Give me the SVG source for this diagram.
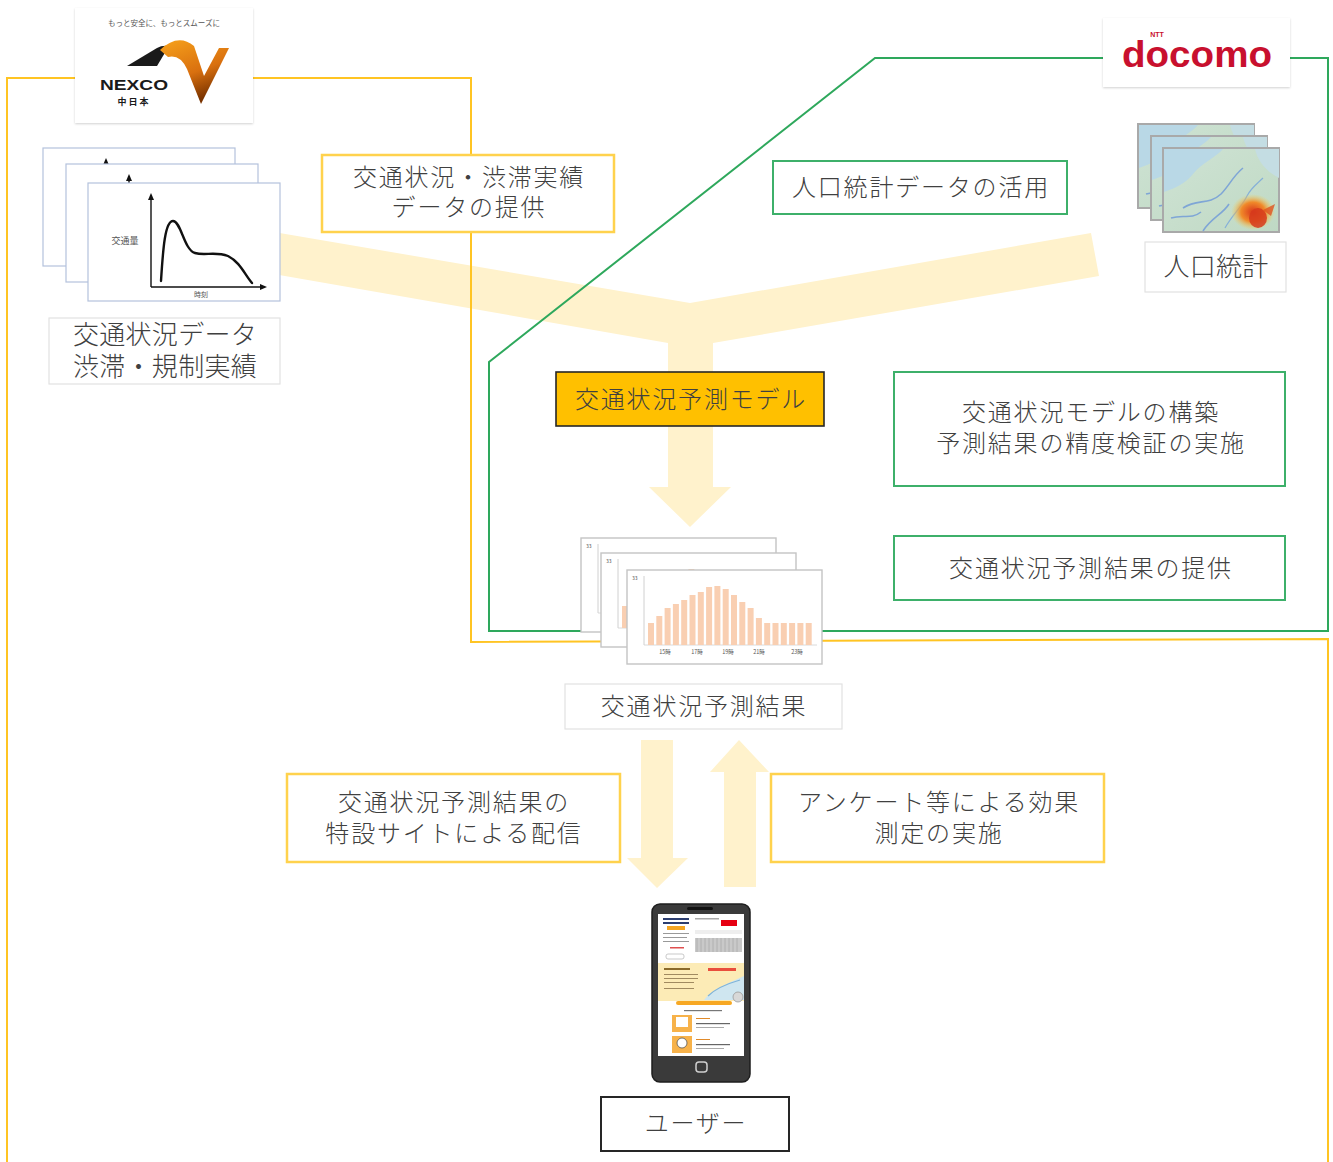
<svg xmlns="http://www.w3.org/2000/svg" width="1333" height="1162" viewBox="0 0 1333 1162">
  <style>
    .lbl { font-family: "Noto Sans CJK JP", "Noto Sans", sans-serif; font-weight: 300; font-size: 24px; fill: #404040; text-anchor: middle; letter-spacing: 1.8px; }
    .big { font-size: 26px; letter-spacing: 0.3px; }
    .ybox { fill: #ffffff; stroke: #FFD24D; stroke-width: 2.5; }
    .gbox { fill: #ffffff; stroke: #3DB06A; stroke-width: 2; }
    .faint { fill: #ffffff; stroke: #E2E2E2; stroke-width: 1.2; }
    .kbox { fill: #ffffff; stroke: #262626; stroke-width: 2; }
    .flow { fill: #FFF2CC; }
    .card { fill: #ffffff; stroke: #B4C2DC; stroke-width: 1.2; }
    .bcard { fill: #ffffff; stroke: #C4C4C4; stroke-width: 1.4; }
    .mcard { stroke: #A9A9A9; stroke-width: 2; }
    .tiny { font-family: "Noto Sans CJK JP", "Noto Sans", sans-serif; fill: #555555; }
  </style>
  <defs>
    <linearGradient id="swoosh" x1="0" y1="0" x2="0.4" y2="1">
      <stop offset="0" stop-color="#F7A21B"/>
      <stop offset="0.6" stop-color="#D9700F"/>
      <stop offset="1" stop-color="#7A3300"/>
    </linearGradient>
    <linearGradient id="land" x1="0" y1="0" x2="1" y2="1">
      <stop offset="0" stop-color="#CFE3D4"/>
      <stop offset="1" stop-color="#BFD9C4"/>
    </linearGradient>
    <radialGradient id="hot" cx="0.5" cy="0.5" r="0.5">
      <stop offset="0" stop-color="#D9361B"/>
      <stop offset="0.55" stop-color="#F08A2A"/>
      <stop offset="1" stop-color="#F3D35A" stop-opacity="0"/>
    </radialGradient>
    <filter id="sh" x="-5%" y="-5%" width="110%" height="115%">
      <feDropShadow dx="0" dy="1" stdDeviation="1" flood-color="#000" flood-opacity="0.18"/>
    </filter>

    <!-- traffic volume chart card -->
    <symbol id="trafficCard" overflow="visible">
      <rect class="card" x="0" y="0" width="192" height="118"/>
      <line x1="63" y1="15" x2="63" y2="104" stroke="#111" stroke-width="1.4"/>
      <polygon points="63,10 60,17 66,17" fill="#111"/>
      <line x1="63" y1="104" x2="174" y2="104" stroke="#111" stroke-width="1.4"/>
      <polygon points="179,104 172,101 172,107" fill="#111"/>
      <text class="tiny" x="37" y="61" font-size="9" text-anchor="middle">交通量</text>
      <text class="tiny" x="113" y="114" font-size="7" text-anchor="middle">時刻</text>
      <path d="M73,98 C75,66 77,38 85,38 C93,38 96,67 107,70 C117,73 127,68 140,73 C152,79 157,92 164,100" fill="none" stroke="#111" stroke-width="2.4" stroke-linecap="round"/>
    </symbol>

    <!-- hourly forecast bar chart card -->
    <symbol id="barCard" overflow="visible">
      <rect class="bcard" x="0" y="0" width="195" height="94"/>
      <text class="tiny" x="5" y="10" font-size="5" fill="#999">33</text>
      <line x1="17" y1="6" x2="17" y2="75" stroke="#D0D0D0" stroke-width="1"/>
      <line x1="17" y1="75" x2="190" y2="75" stroke="#D0D0D0" stroke-width="0.8"/>
      <g fill="#F9CFB2">
        <rect x="21" y="53" width="6" height="22"/>
        <rect x="29.3" y="46" width="6" height="29"/>
        <rect x="37.6" y="38" width="6" height="37"/>
        <rect x="45.9" y="34" width="6" height="41"/>
        <rect x="54.2" y="30" width="6" height="45"/>
        <rect x="62.5" y="25" width="6" height="50"/>
        <rect x="70.8" y="22" width="6" height="53"/>
        <rect x="79.1" y="17" width="6" height="58"/>
        <rect x="87.4" y="16" width="6" height="59"/>
        <rect x="95.7" y="19" width="6" height="56"/>
        <rect x="104" y="25" width="6" height="50"/>
        <rect x="112.3" y="32" width="6" height="43"/>
        <rect x="120.6" y="38" width="6" height="37"/>
        <rect x="128.9" y="48" width="6" height="27"/>
        <rect x="137.2" y="53" width="6" height="22"/>
        <rect x="145.5" y="53" width="6" height="22"/>
        <rect x="153.8" y="53" width="6" height="22"/>
        <rect x="162.1" y="53" width="6" height="22"/>
        <rect x="170.4" y="53" width="6" height="22"/>
        <rect x="178.7" y="53" width="6" height="22"/>
      </g>
      <g class="tiny" font-size="5.5" fill="#A0A0A0" text-anchor="middle">
        <text x="38" y="84">15時</text>
        <text x="70" y="84">17時</text>
        <text x="101" y="84">19時</text>
        <text x="132" y="84">21時</text>
        <text x="170" y="84">23時</text>
      </g>
    </symbol>

    <!-- population density map card -->
    <symbol id="mapCard" overflow="visible">
      <rect class="mcard" x="0" y="0" width="116" height="84" fill="url(#land)"/>
      <path d="M1,1 H60 C52,10 40,14 30,26 C22,36 12,40 1,44 Z" fill="#B9D8E6"/>
      <path d="M116,1 V30 C104,24 95,14 92,1 Z" fill="#C4DDE3"/>
      <path d="M20,60 C35,50 45,58 58,46 C66,38 70,28 80,20 M40,83 C48,70 60,66 66,56 M8,70 C20,66 28,72 38,64" fill="none" stroke="#7FA6D6" stroke-width="1.6"/>
      <path d="M62,80 C70,66 78,60 84,48 C88,40 94,36 100,30" fill="none" stroke="#86B0D8" stroke-width="1.2"/>
      <ellipse cx="90" cy="64" rx="22" ry="18" fill="url(#hot)"/>
      <ellipse cx="95" cy="70" rx="9" ry="10" fill="#D63A1C" opacity="0.85"/>
      <path d="M100,62 L112,56 L108,68 Z" fill="#E0541F" opacity="0.8"/>
    </symbol>
  </defs>

  <!-- flow arrows -->
  <g id="flows">
    <polygon class="flow" points="262,230 690,303 1091,233 1099,276 713,343 713,487 731,487 690,527 649,487 668,487 668,343 262,272"/>
    <polygon class="flow" points="641,740 673,740 673,858 688,858 657,888 627,858 641,858"/>
    <polygon class="flow" points="739,740 769,772 756,772 756,887 724,887 724,772 710,772"/>
  </g>

  <!-- connectors: organisation boundaries -->
  <g id="connectors" fill="none">
    <polyline points="7,1162 7,78 471,78 471,642 1328,639 1328,1162" stroke="#FFC423" stroke-width="2"/>
    <polygon points="489,631 489,362 875,58 1328,58 1328,631" stroke="#2EA85C" stroke-width="2"/>
  </g>

  <!-- NEXCO logo -->
  <g id="nexco-logo">
    <rect x="75" y="8" width="178" height="115" fill="#ffffff" filter="url(#sh)"/>
    <text class="tiny" x="164" y="26" font-size="7.5" text-anchor="middle" fill="#505050">もっと安全に、もっとスムーズに</text>
    <path d="M127,66 L157,48 Q162,45 169,46 L157,66 Z" fill="#1A1A1A"/>
    <path d="M160,50 Q178,33 194,46 L204,76 L219,48 L229,48 L201,104 L187,69 Q180,54 168,57 Z" fill="url(#swoosh)"/>
    <text x="134" y="90" font-family="Liberation Sans, Arial, sans-serif" font-weight="bold" font-size="15" fill="#1A1A1A" text-anchor="middle" textLength="68" lengthAdjust="spacingAndGlyphs">NEXCO</text>
    <text x="134" y="105" font-family="Noto Sans CJK JP, sans-serif" font-weight="bold" font-size="9" fill="#1A1A1A" text-anchor="middle" letter-spacing="2">中日本</text>
  </g>

  <!-- docomo logo -->
  <g id="docomo-logo">
    <rect x="1103" y="18" width="187" height="69" fill="#ffffff" filter="url(#sh)"/>
    <text x="1122" y="67" font-family="Liberation Sans, Arial, sans-serif" font-weight="bold" font-size="37" fill="#C8102E" textLength="150" lengthAdjust="spacingAndGlyphs">docomo</text>
    <text x="1157" y="37" font-family="Liberation Sans, Arial, sans-serif" font-weight="bold" font-size="7" fill="#C8102E" text-anchor="middle">NTT</text>
  </g>

  <!-- traffic record charts -->
  <g id="traffic-charts">
    <use href="#trafficCard" x="43" y="148"/>
    <use href="#trafficCard" x="66" y="164"/>
    <use href="#trafficCard" x="88" y="183"/>
  </g>
  <g id="traffic-data">
    <rect class="faint" x="49" y="318" width="231" height="66"/>
    <text class="lbl big" x="165" y="344">交通状況データ<tspan x="165" dy="32">渋滞・規制実績</tspan></text>
  </g>

  <!-- population statistics maps -->
  <g id="population-maps">
    <use href="#mapCard" x="1138" y="124"/>
    <use href="#mapCard" x="1151" y="136"/>
    <use href="#mapCard" x="1163" y="148"/>
  </g>
  <g id="population">
    <rect class="faint" x="1145" y="242" width="141" height="50"/>
    <text class="lbl big" x="1216" y="276">人口統計</text>
  </g>

  <g id="provide-traffic">
    <rect class="ybox" x="322" y="155" width="292" height="77"/>
    <text class="lbl" x="469" y="186">交通状況・渋滞実績<tspan x="469" dy="30">データの提供</tspan></text>
  </g>

  <g id="use-population">
    <rect class="gbox" x="773" y="161" width="294" height="53"/>
    <text class="lbl" x="921" y="196">人口統計データの活用</text>
  </g>

  <g id="prediction-model">
    <rect x="556" y="372" width="268" height="54" fill="#FFC000" stroke="#262626" stroke-width="1.6"/>
    <text class="lbl" x="691" y="408" fill="#333333">交通状況予測モデル</text>
  </g>

  <g id="build-model">
    <rect class="gbox" x="894" y="372" width="391" height="114"/>
    <text class="lbl" x="1091" y="421">交通状況モデルの構築<tspan x="1091" dy="31">予測結果の精度検証の実施</tspan></text>
  </g>

  <g id="provide-results">
    <rect class="gbox" x="894" y="536" width="391" height="64"/>
    <text class="lbl" x="1091" y="577">交通状況予測結果の提供</text>
  </g>

  <!-- forecast bar charts -->
  <g id="forecast-charts">
    <use href="#barCard" x="581" y="538"/>
    <use href="#barCard" x="601" y="553"/>
    <use href="#barCard" x="627" y="570"/>
  </g>
  <g id="forecast-result">
    <rect class="faint" x="565" y="684" width="277" height="45"/>
    <text class="lbl" x="704" y="715">交通状況予測結果</text>
  </g>

  <g id="distribution">
    <rect class="ybox" x="287" y="774" width="333" height="88"/>
    <text class="lbl" x="454" y="811">交通状況予測結果の<tspan x="454" dy="31">特設サイトによる配信</tspan></text>
  </g>

  <g id="survey">
    <rect class="ybox" x="771" y="774" width="333" height="88"/>
    <text class="lbl" x="939" y="811">アンケート等による効果<tspan x="939" dy="31">測定の実施</tspan></text>
  </g>

  <!-- smartphone showing the forecast site -->
  <g id="smartphone">
    <rect x="652" y="904" width="98" height="178" rx="8" fill="#3A3A3A" stroke="#1E1E1E" stroke-width="1.5"/>
    <rect x="687" y="907" width="26" height="3" rx="1.5" fill="#111"/>
    <rect x="658" y="914" width="86" height="142" fill="#ffffff"/>
    <rect x="663" y="918" width="26" height="2" fill="#2C3E70"/>
    <rect x="663" y="922" width="26" height="2" fill="#2C3E70"/>
    <rect x="667" y="926" width="18" height="4" fill="#F5A623"/>
    <rect x="663" y="933" width="26" height="1" fill="#999"/>
    <rect x="663" y="937" width="24" height="1" fill="#999"/>
    <rect x="663" y="941" width="26" height="1" fill="#999"/>
    <rect x="670" y="947" width="14" height="1.5" fill="#E05050"/>
    <rect x="666" y="954" width="18" height="5" rx="2" fill="none" stroke="#BBB" stroke-width="0.8"/>
    <rect x="695" y="918" width="24" height="1.5" fill="#AAA"/>
    <rect x="721" y="920" width="16" height="6" fill="#E60012"/>
    <rect x="695" y="930" width="47" height="4" fill="#EEE"/>
    <rect x="695" y="938" width="47" height="14" fill="#C9C9C9"/>
    <path d="M697,938 V952 M701,938 V952 M705,938 V952 M709,938 V952 M713,938 V952 M717,938 V952 M721,938 V952 M725,938 V952 M729,938 V952 M733,938 V952 M737,938 V952" stroke="#B0B0B0" stroke-width="1"/>
    <rect x="658" y="963" width="86" height="38" fill="#FCEBB6"/>
    <rect x="664" y="968" width="26" height="2" fill="#8A6A2A"/>
    <rect x="664" y="974" width="34" height="1" fill="#A08A60"/>
    <rect x="664" y="978" width="34" height="1" fill="#A08A60"/>
    <rect x="664" y="982" width="30" height="1" fill="#A08A60"/>
    <rect x="664" y="988" width="30" height="1" fill="#A08A60"/>
    <rect x="708" y="968" width="28" height="3" fill="#E94E3C"/>
    <path d="M704,1000 C712,990 722,986 744,976 V1000 Z" fill="#CFE6F0"/>
    <path d="M708,996 C716,988 726,984 740,980" fill="none" stroke="#7FB3D8" stroke-width="1.2"/>
    <circle cx="738" cy="997" r="5" fill="#D8D8D8" stroke="#999" stroke-width="0.8"/>
    <rect x="676" y="1001" width="56" height="4" rx="2" fill="#F7A823"/>
    <rect x="684" y="1010" width="38" height="1.2" fill="#777"/>
    <rect x="672" y="1015" width="20" height="17" fill="#F7B24A"/>
    <rect x="676" y="1017" width="12" height="10" fill="#ffffff"/>
    <rect x="696" y="1018" width="14" height="1" fill="#E08A2A"/>
    <rect x="696" y="1023" width="34" height="1.2" fill="#666"/>
    <rect x="696" y="1027" width="28" height="1" fill="#AAA"/>
    <rect x="672" y="1036" width="20" height="17" fill="#F7B24A"/>
    <circle cx="682" cy="1043" r="5" fill="#ffffff" stroke="#555" stroke-width="0.8"/>
    <rect x="696" y="1039" width="14" height="1" fill="#E08A2A"/>
    <rect x="696" y="1044" width="34" height="1.2" fill="#666"/>
    <rect x="696" y="1048" width="28" height="1" fill="#AAA"/>
    <rect x="696" y="1062" width="11" height="10" rx="3" fill="none" stroke="#CFCFCF" stroke-width="1.5"/>
  </g>

  <g id="user">
    <rect class="kbox" x="601" y="1097" width="188" height="54"/>
    <text class="lbl" x="696" y="1132">ユーザー</text>
  </g>
</svg>
